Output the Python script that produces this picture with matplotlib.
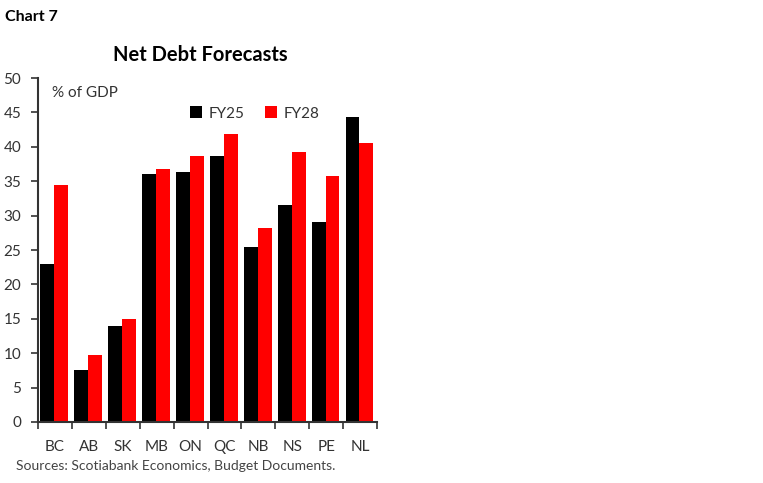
import matplotlib
matplotlib.use("Agg")
import matplotlib.pyplot as plt
import numpy as np

categories = ["BC", "AB", "SK", "MB", "ON", "QC", "NB", "NS", "PE", "NL"]
fy25 = [22.9, 7.6, 14.0, 36.1, 36.3, 38.7, 25.5, 31.6, 29.0, 44.4]
fy28 = [34.4, 9.7, 15.0, 36.8, 38.6, 41.9, 28.2, 39.3, 35.8, 40.6]
yticks = [0, 5, 10, 15, 20, 25, 30, 35, 40, 45, 50]

plt.rcParams['font.family'] = ['Lato', 'DejaVu Sans']

fig = plt.figure(figsize=(7.63, 4.83), dpi=100)
ax = fig.add_axes([0.0498, 0.1263, 0.4444, 0.7122])

x = np.arange(len(categories))
w = 0.41
ax.bar(x - w/2 - 0.02, fy25, width=w, color="black", label="FY25")
ax.bar(x + w/2 - 0.02, fy28, width=w, color="#ff0000", label="FY28")

ax.set_xlim(-0.5, len(categories) - 0.5)
ax.set_ylim(0, 50)
ax.set_yticks(yticks)
ax.set_yticklabels([str(t) for t in yticks], fontsize=11, color="#333333")
ax.set_xticks(x)
ax.set_xticklabels(categories, fontsize=11, color="#333333")
ax.tick_params(axis="x", length=0, pad=13)
ax.set_xticks(np.arange(-0.5, len(categories)), minor=True)
ax.tick_params(axis="x", which="minor", length=5, width=1.2, color="#333333")
ax.tick_params(axis="y", length=5, width=1.2, color="#333333", pad=7)

for s in ["top", "right"]:
    ax.spines[s].set_visible(False)
for s in ["left", "bottom"]:
    ax.spines[s].set_linewidth(1.5)
    ax.spines[s].set_color("#333333")

ax.text(0.04, 0.955, "% of GDP", transform=ax.transAxes, fontsize=11,
        color="#333333", va="center", ha="left")

leg = ax.legend(loc="upper left", bbox_to_anchor=(0.43, 0.935), ncol=2, frameon=False,
                fontsize=11, handlelength=0.8, handleheight=0.8,
                columnspacing=1.3, handletextpad=0.45, borderaxespad=0)
for t in leg.get_texts():
    t.set_color("#333333")

fig.text(0.007, 0.965, "Chart 7", fontsize=11.5, fontweight="bold", ha="left", va="center")
fig.text(0.262, 0.886, "Net Debt Forecasts", fontsize=14.5, fontweight="bold",
         ha="center", va="center")
fig.text(0.021, 0.036, "Sources: Scotiabank Economics, Budget Documents.", fontsize=10,
         color="#444444", ha="left", va="center")

fig.savefig("out.png", dpi=100)
